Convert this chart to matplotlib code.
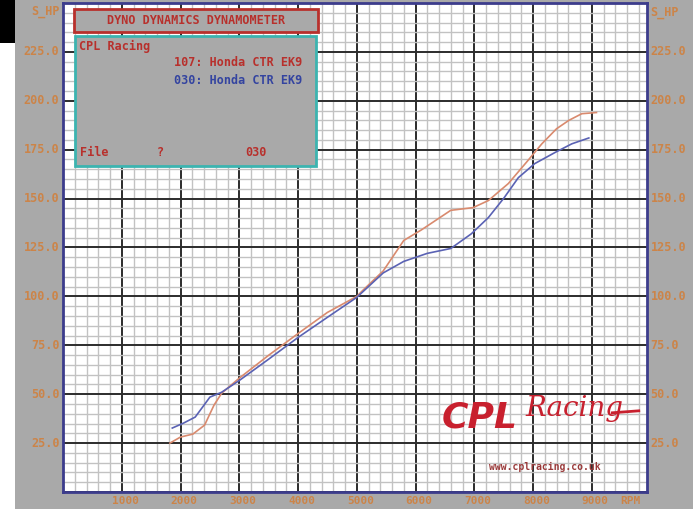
import matplotlib.pyplot as plt
from matplotlib.patches import Rectangle
from matplotlib.ticker import MultipleLocator

# run 107 (red) and run 030 (blue), rpm vs S_HP
rpm_107 = [1820, 2000, 2210, 2410, 2570, 2700, 3000, 3500, 4000, 4500, 5000, 5100,
           5450, 5800, 6100, 6600, 6980, 7240, 7580, 7900, 8150, 8400, 8610, 8830, 9080]
hp_107 = [25.0, 28.1, 29.6, 34.2, 44.4, 50.5, 58.2, 69.9, 81.0, 91.8, 100.0, 103.0,
          113.0, 128.6, 134.0, 144.0, 145.4, 149.0, 157.7, 169.0, 178.0, 185.7, 190.0, 193.4, 194.0]

rpm_030 = [1860, 2050, 2250, 2400, 2500, 2700, 3000, 3500, 4000, 4500, 5000, 5450,
           5800, 6200, 6600, 6950, 7240, 7510, 7750, 8030, 8370, 8660, 8950]
hp_030 = [32.7, 35.2, 38.3, 44.4, 48.5, 51.0, 57.0, 67.9, 79.0, 89.3, 99.5, 112.0,
          117.9, 122.0, 124.5, 132.0, 140.3, 150.5, 160.7, 167.9, 173.5, 178.0, 181.0]

x_ticks = [1000, 2000, 3000, 4000, 5000, 6000, 7000, 8000, 9000]
y_ticks = [25, 50, 75, 100, 125, 150, 175, 200, 225]

W, H = 693, 509
bg = '#a9a9a9'
lab = '#cc8448'

fig = plt.figure(figsize=(W / 100, H / 100), dpi=100, facecolor=bg)


def px(x, y):
    return x / W, 1 - y / H


# strip down the left edge
fig.patches.append(Rectangle((0, 0), 15 / W, 1, transform=fig.transFigure,
                             facecolor='white', edgecolor='none', zorder=0))
fig.patches.append(Rectangle(px(0, 43), 15 / W, 43 / H, transform=fig.transFigure,
                             facecolor='black', edgecolor='none', zorder=0))

ax = fig.add_axes([63 / W, (H - 492) / H, 584 / W, 489 / H])
ax.set_facecolor('white')
ax.set_xlim(0, 9940)
ax.set_ylim(0, 250)

ax.xaxis.set_major_locator(MultipleLocator(1000))
ax.xaxis.set_minor_locator(MultipleLocator(200))
ax.yaxis.set_major_locator(MultipleLocator(25))
ax.yaxis.set_minor_locator(MultipleLocator(5))
ax.grid(which='minor', color='#c2c2c2', lw=1.0)
ax.grid(which='major', color='#2c2c2c', lw=1.4)
ax.set_axisbelow(True)
ax.tick_params(which='both', length=0, labelbottom=False, labelleft=False)
for s in ax.spines.values():
    s.set_color('#3c3c8c')
    s.set_linewidth(2)

ax.plot(rpm_107, hp_107, color='#d98a6e', lw=1.2)
ax.plot(rpm_030, hp_030, color='#5a62b4', lw=1.2)

fnt = dict(family='DejaVu Sans Mono', fontweight='bold', color=lab)

# axis labels, same on both sides
for v in x_ticks:
    ax.text(v + 60, -1.8, str(v), ha='center', va='top', fontsize=8, **fnt)
ax.text(9650, -1.8, 'RPM', ha='center', va='top', fontsize=8, **fnt)
for v in y_ticks:
    ax.text(-60, v, '%.1f' % v, ha='right', va='center', fontsize=8.5, **fnt)
    ax.text(10000, v, '%.1f' % v, ha='left', va='center', fontsize=8.5, **fnt)
ax.text(-60, 245.5, 'S_HP', ha='right', va='center', fontsize=8.5, **fnt)
ax.text(10000, 245, 'S_HP', ha='left', va='center', fontsize=8.5, **fnt)

# header boxes
red = '#b8302c'
fig.patches.append(Rectangle(px(74, 32), 244 / W, 23 / H, transform=fig.transFigure,
                             facecolor=bg, edgecolor=red, lw=2, zorder=5))
fig.patches.append(Rectangle(px(75, 166), 241 / W, 130 / H, transform=fig.transFigure,
                             facecolor=bg, edgecolor='#3cb4b0', lw=2, zorder=5))
box = dict(family='DejaVu Sans Mono', fontweight='bold', fontsize=8.5, zorder=6)
fig.text(*px(196, 21), 'DYNO DYNAMICS DYNAMOMETER', ha='center', va='center', color=red, **box)
fig.text(*px(79, 46), 'CPL Racing', ha='left', va='center', color=red, **box)
fig.text(*px(302, 63), '107: Honda CTR EK9', ha='right', va='center', color=red, **box)
fig.text(*px(302, 81), '030: Honda CTR EK9', ha='right', va='center', color='#3444a0', **box)
fig.text(*px(80, 153), 'File', ha='left', va='center', color=red, **box)
fig.text(*px(160, 153), '?', ha='center', va='center', color=red, **box)
fig.text(*px(256, 153), '030', ha='center', va='center', color=red, **box)

# sponsor logo
logo = '#c8202e'
fig.text(*px(480, 418), 'CPL', ha='center', va='center', color=logo, fontsize=26,
         fontweight='heavy', style='italic', family='DejaVu Sans', zorder=6)
fig.text(*px(574, 408), 'Racing', ha='center', va='center', color=logo, fontsize=20,
         style='italic', family='DejaVu Serif', zorder=6)
ax.plot([9350, 9800], [40.5, 41.5], color=logo, lw=2, zorder=6)
fig.text(*px(545, 467), 'www.cplracing.co.uk', ha='center', va='center', color='#9a3a3a',
         fontsize=7, fontweight='bold', family='DejaVu Sans Mono', zorder=6)

fig.savefig('out.png', dpi=100, facecolor=bg)
